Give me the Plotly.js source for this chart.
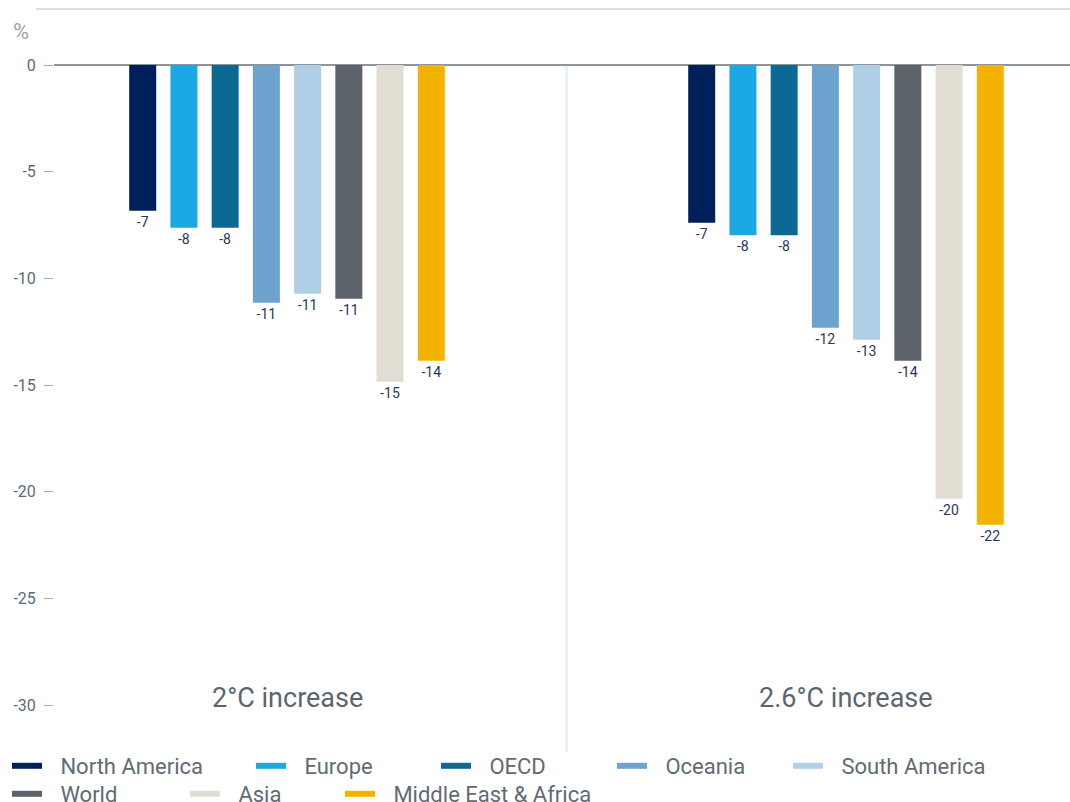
<!DOCTYPE html>
<html>
<head>
<meta charset="utf-8">
<script src="https://cdn.plot.ly/plotly-3.0.1.min.js"></script>
<style>
html,body{margin:0;padding:0;background:#fff;}
#chart{width:1070px;height:802px;}
</style>
</head>
<body>
<div id="chart"></div>
<script>
// ---- data ----
var scenarios = ['2°C increase', '2.6°C increase'];
var regions = ['North America', 'Europe', 'OECD', 'Oceania', 'South America', 'World', 'Asia', 'Middle East & Africa'];
var northAmerica = [-6.83, -7.39];
var europe       = [-7.63, -7.98];
var oecd         = [-7.63, -7.98];
var oceania      = [-11.14, -12.31];
var southAmerica = [-10.72, -12.88];
var world        = [-10.96, -13.86];
var asia         = [-14.85, -20.33];
var middleEast   = [-13.86, -21.55];
var yTicks = [0, -5, -10, -15, -20, -25, -30];
var yUnit = '%';

var seriesValues = [northAmerica, europe, oecd, oceania, southAmerica, world, asia, middleEast];
var colors = ['#00205b', '#1aa9e4', '#0b6994', '#6ea3cf', '#afcfe6', '#5c636a', '#e1ddd3', '#f2b300'];

// layout geometry (pixels)
var W = 1070, H = 802, mL = 54, mR = 0, mT = 9, mB = 50;
var pw = W - mL - mR, ph = H - mT - mB;
function px2x(p){ return (p - mL) / pw; }
function py2y(p){ return (H - mB - p) / ph; }

// legend placement (symbol start x, row center y)
var legPos = [[12,766],[256,766],[441,766],[617,766],[793,766],[12,794],[190,794],[345,794]];
var legPad = '<span style="font-size:18px">\u00a0\u00a0\u00a0</span>';

var traces = [];
var layoutLegends = {};
regions.forEach(function(r, i){
  traces.push({
    type: 'bar',
    name: r,
    x: scenarios,
    y: seriesValues[i],
    marker: {color: colors[i]},
    text: seriesValues[i].map(function(v){ return String(Math.round(v)); }),
    textposition: 'outside',
    textfont: {family: 'Roboto, sans-serif', size: 14, color: '#27365b'},
    cliponaxis: false,
    showlegend: false,
    hoverinfo: 'skip'
  });
  var lk = i === 0 ? 'legend' : 'legend' + (i + 1);
  traces.push({
    type: 'scatter',
    mode: 'lines',
    name: legPad + r,
    x: [null], y: [null],
    line: {color: colors[i], width: 6},
    showlegend: true,
    legend: lk,
    hoverinfo: 'skip'
  });
  layoutLegends[lk] = {
    x: px2x(legPos[i][0] - 5),
    xanchor: 'left',
    y: py2y(legPos[i][1]),
    yanchor: 'middle',
    orientation: 'h',
    bgcolor: 'rgba(0,0,0,0)',
    borderwidth: 0,
    font: {family: 'Roboto, sans-serif', size: 22, color: '#5f6b75'}
  };
});

var layout = {
  width: W, height: H,
  margin: {l: mL, r: mR, t: mT, b: mB, pad: 0, autoexpand: false},
  paper_bgcolor: '#ffffff',
  plot_bgcolor: '#ffffff',
  barmode: 'group',
  bargap: 0.41,
  bargroupgap: 0.345,
  font: {family: 'Roboto, sans-serif'},
  xaxis: {
    type: 'category',
    range: [-0.4168, 1.4007],
    showticklabels: false,
    showgrid: false,
    zeroline: false,
    showline: false,
    ticks: '',
    fixedrange: true
  },
  yaxis: {
    range: [-32.2, 2.625],
    tickvals: yTicks,
    ticktext: yTicks.map(String),
    ticks: 'outside',
    ticklen: 9,
    tickwidth: 1,
    tickcolor: '#a7adb2',
    ticklabelstandoff: 5,
    tickfont: {family: 'Roboto, sans-serif', size: 16, color: '#5a6b78'},
    showgrid: false,
    zeroline: true,
    zerolinecolor: '#8c959c',
    zerolinewidth: 1.5,
    showline: false,
    fixedrange: true
  },
  shapes: [
    {type: 'line', xref: 'paper', yref: 'paper', x0: px2x(36), x1: 1, y0: 1, y1: 1,
     line: {color: '#d9d5cd', width: 1.5}},
    {type: 'line', xref: 'x', yref: 'y', x0: 0.5, x1: 0.5, y0: 0, y1: -32.2,
     line: {color: '#eef1f4', width: 3}, layer: 'below'}
  ],
  annotations: [
    {xref: 'paper', yref: 'paper', x: px2x(11), y: py2y(31), xanchor: 'left', yanchor: 'middle',
     text: yUnit, showarrow: false, font: {family: 'Roboto, sans-serif', size: 22, color: '#a3a3a3'}}
  ]
};
scenarios.forEach(function(s){
  layout.annotations.push({
    xref: 'x', yref: 'y', x: s, y: -29.68, xanchor: 'center', yanchor: 'middle',
    text: s, showarrow: false,
    font: {family: 'Roboto, sans-serif', size: 27, color: '#5b6670'}
  });
});
Object.keys(layoutLegends).forEach(function(k){ layout[k] = layoutLegends[k]; });

Plotly.newPlot('chart', traces, layout, {displayModeBar: false, staticPlot: true});
</script>
</body>
</html>
